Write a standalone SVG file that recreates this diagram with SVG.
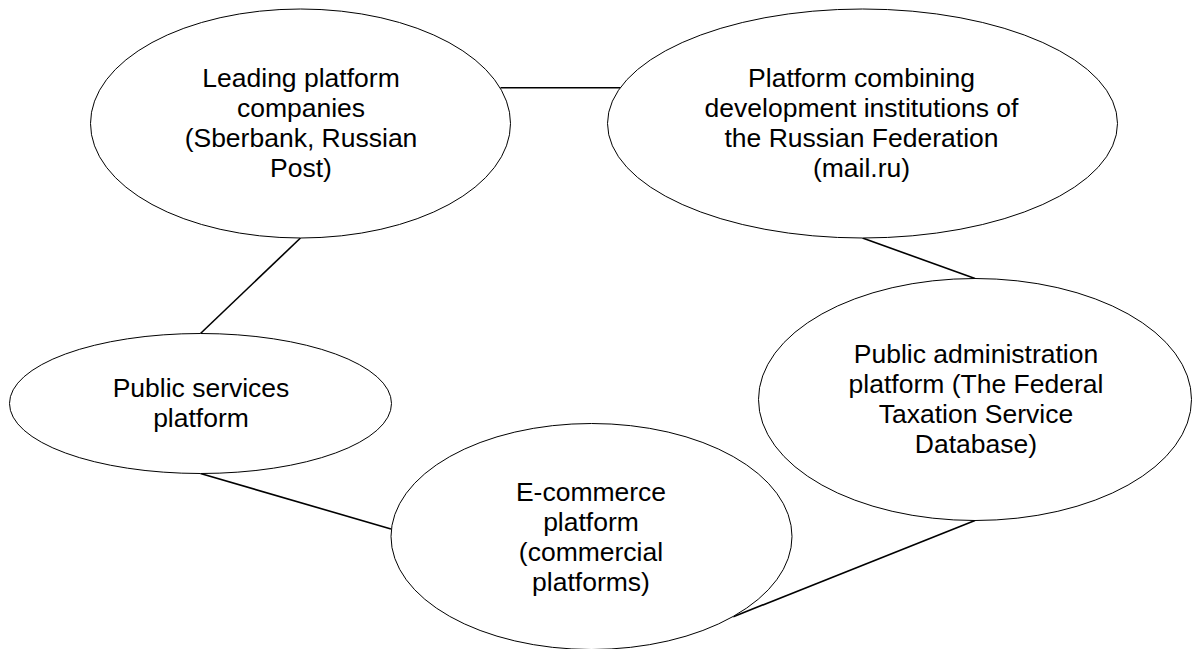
<svg xmlns="http://www.w3.org/2000/svg" width="1192" height="649" viewBox="0 0 1192 649">
  <style>
    .node ellipse { fill: #ffffff; stroke: #000000; stroke-width: 1; }
    .node text { font-family: "Liberation Sans", Arial, sans-serif; font-size: 26.5px; fill: #000000; text-anchor: middle; }
    .links line { stroke: #000000; stroke-width: 1.6; }
  </style>
  <rect x="0" y="0" width="1192" height="649" fill="#ffffff"/>

  <!-- connectors between the platforms -->
  <g id="connectors" class="links">
    <line x1="500.5" y1="87.7" x2="621" y2="87.7"/>
    <line x1="300.5" y1="238" x2="200.5" y2="333.5"/>
    <line x1="862.5" y1="238" x2="975" y2="278.5"/>
    <line x1="200.5" y1="473.5" x2="391" y2="529"/>
    <line x1="733.3" y1="616.7" x2="975" y2="520.5"/>
  </g>

  <g id="leading-platform-companies" class="node">
    <ellipse cx="300.5" cy="123.5" rx="210" ry="114.5"/>
    <text x="301" y="87.3">Leading platform</text>
    <text x="301" y="117.1">companies</text>
    <text x="301" y="146.9">(Sberbank, Russian</text>
    <text x="301" y="176.7">Post)</text>
  </g>

  <g id="development-institutions-platform" class="node">
    <ellipse cx="862.5" cy="123.5" rx="255" ry="114.5"/>
    <text x="861.5" y="87.3">Platform combining</text>
    <text x="861.5" y="117.1">development institutions of</text>
    <text x="861.5" y="146.9">the Russian Federation</text>
    <text x="861.5" y="176.7">(mail.ru)</text>
  </g>

  <g id="public-services-platform" class="node">
    <ellipse cx="200.5" cy="403.5" rx="191" ry="70"/>
    <text x="201" y="397.1">Public services</text>
    <text x="201" y="426.9">platform</text>
  </g>

  <g id="public-administration-platform" class="node">
    <ellipse cx="975" cy="399.5" rx="216.5" ry="121"/>
    <text x="976" y="363.3">Public administration</text>
    <text x="976" y="393.1">platform (The Federal</text>
    <text x="976" y="422.9">Taxation Service</text>
    <text x="976" y="452.7">Database)</text>
  </g>

  <g id="e-commerce-platform" class="node">
    <ellipse cx="591.5" cy="536.5" rx="200.5" ry="113"/>
    <text x="591" y="501.3">E-commerce</text>
    <text x="591" y="531.1">platform</text>
    <text x="591" y="560.9">(commercial</text>
    <text x="591" y="590.7">platforms)</text>
  </g>
</svg>
